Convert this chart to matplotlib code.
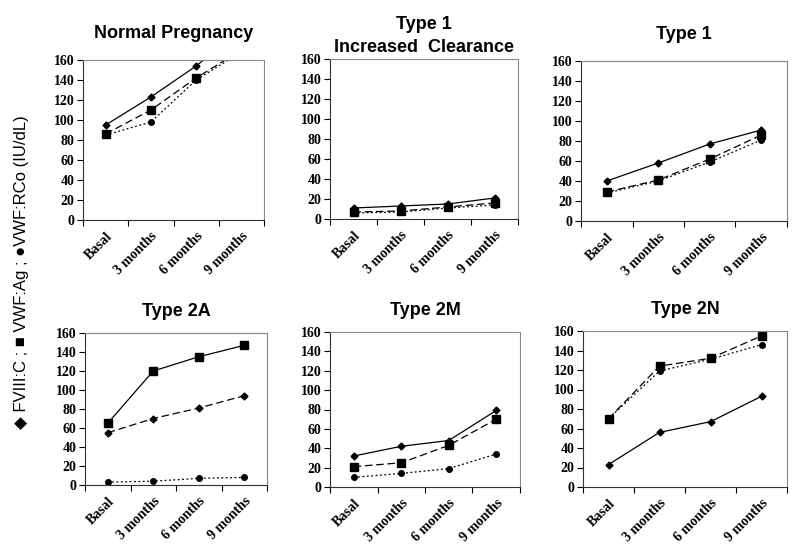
import matplotlib.pyplot as plt
from matplotlib.ticker import FixedLocator
import numpy as np

W, H = 800, 553

months = ['Basal', '3 months', '6 months', '9 months']

titles = ['Normal Pregnancy', 'Type 1\nIncreased  Clearance', 'Type 1',
          'Type 2A', 'Type 2M', 'Type 2N']

# FVIII:C (diamonds), VWF:Ag (squares), VWF:RCo (circles), IU/dL
fviii = [[95, 123, 154, 190],
         [11, 13, 15, 21],
         [40, 58, 77, 91],
         [55, 70, 81, 94],
         [32, 42, 48, 79],
         [23, 56, 67, 93]]
vwf_ag = [[86, 110, 142, 170],
          [7, 8, 12, 16],
          [29, 41, 62, 86],
          [65, 120, 135, 147],
          [21, 25, 43, 70],
          [70, 124, 132, 155]]
vwf_rco = [[85, 98, 140, 168],
           [6, 7, 11, 14],
           [28, 40, 59, 81],
           [3, 4, 7, 8],
           [10, 14, 19, 34],
           [70, 119, 131, 146]]

dash = (0, (6, 3))
dot = (0, (1.5, 2))
# line styles per panel: (diamond, square, circle)
styles = [('-', dash, dot)] * 3 + [(dash, '-', dot), ('-', dash, dot), ('-', dash, dot)]

# axes boxes in pixels: left, top, right, bottom
boxes = [(83, 60, 264, 220), (330, 59, 518, 219), (581, 61, 787, 221),
         (85, 333, 267, 485), (330, 332, 520, 487), (583, 331, 787, 487)]
title_pad = [16, 5, 16, 12, 12, 12]

fig = plt.figure(figsize=(W / 100, H / 100), dpi=100)
serif = {'family': 'Liberation Serif', 'weight': 'bold', 'size': 10}

x = np.arange(len(months)) + 0.5
for i, (l, t, r, b) in enumerate(boxes):
    ax = fig.add_axes([l / W, 1 - b / H, (r - l) / W, (b - t) / H])
    ls_d, ls_s, ls_c = styles[i]
    ax.plot(x, fviii[i], color='black', ls=ls_d, lw=0.9, marker='D', ms=3.5)
    ax.plot(x, vwf_ag[i], color='black', ls=ls_s, lw=0.9, marker='s', ms=5.5)
    ax.plot(x, vwf_rco[i], color='black', ls=ls_c, lw=0.9, marker='o', ms=4)
    ax.set_xlim(0, 4)
    ax.set_ylim(0, 160)
    ax.set_yticks(range(0, 161, 20))
    ax.xaxis.set_major_locator(FixedLocator([0, 1, 2, 3, 4]))
    ax.xaxis.set_major_formatter(plt.NullFormatter())
    ax.xaxis.set_minor_locator(FixedLocator(x))
    ax.set_xticklabels(months, minor=True, rotation=45, ha='right',
                       rotation_mode='anchor', fontdict=serif)
    ax.tick_params(axis='x', which='minor', length=0, pad=7)
    ax.tick_params(axis='x', which='major', length=4, direction='out')
    ax.tick_params(axis='y', length=4, direction='out', pad=2)
    for lab in ax.get_yticklabels():
        lab.set_fontproperties('Liberation Serif')
        lab.set_fontweight('bold')
        lab.set_fontsize(10)
    for s in ['top', 'right']:
        ax.spines[s].set_color('#888888')
    for s in ['left', 'bottom']:
        ax.spines[s].set_color('#333333')
    ax.set_title(titles[i], fontdict={'family': 'Liberation Sans', 'weight': 'bold',
                                      'size': 13}, pad=title_pad[i],
                 linespacing=1.45)

fig.text(22 / W, 1 - 272 / H, '\u25c6 FVIII:C ; \u25a0 VWF:Ag ; \u25cfVWF:RCo (IU/dL)',
         rotation=90, ha='center', va='center', fontsize=12,
         family=['Liberation Sans', 'DejaVu Sans'])

fig.savefig('out.png', dpi=100)
